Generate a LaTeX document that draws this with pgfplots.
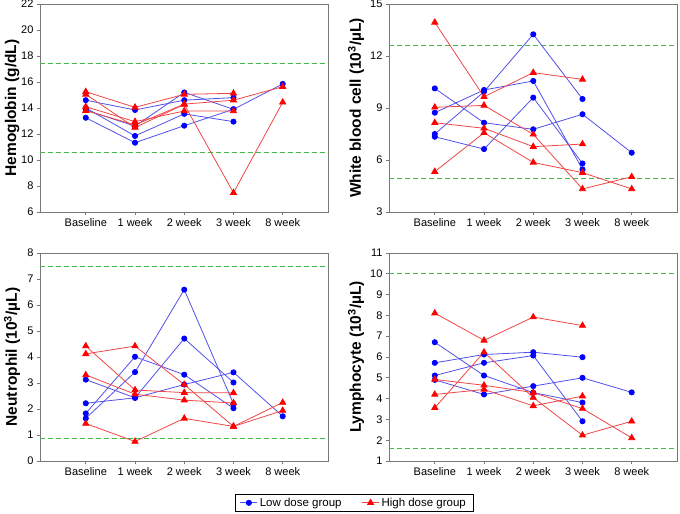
\documentclass[border=0pt]{standalone}
\usepackage{fontspec}
\setmainfont{Liberation Sans}
\usepackage{pgfplots}
\pgfplotsset{compat=1.18}

\definecolor{lowline}{RGB}{80,80,235}
\definecolor{highline}{RGB}{240,70,70}
\definecolor{refgreen}{RGB}{70,185,70}
\definecolor{frame}{RGB}{120,120,120}

\pgfplotsset{
  panel/.style={
    scale only axis, width=288pt, height=208pt,
    xmin=-0.93, xmax=4.92,
    xtick={0,1,2,3,4},
    xticklabels={Baseline,1 week,2 week,3 week,8 week},
    axis line style={frame, line width=0.9pt},
    tick style={frame, line width=0.8pt},
    tick align=outside, xtick pos=left, ytick pos=left,
    major tick length=3pt,
    ticklabel style={font=\fontsize{11}{13}\selectfont},
    /pgf/number format/assume math mode=true,
    every axis y label/.style={at={(axis description cs:-0.097,0.5)}, rotate=90, anchor=center,
      font=\bfseries\fontsize{15.5}{18}\selectfont},
  },
  rightpanel/.style={
    every axis y label/.style={at={(axis description cs:-0.114,0.5)}, rotate=90, anchor=center,
      font=\bfseries\fontsize{15.5}{18}\selectfont},
  },
  low/.style={lowline, line width=0.8pt, mark=*, mark size=2.6pt,
    mark options={fill=blue, draw=blue}, forget plot},
  high/.style={highline, line width=0.8pt, mark=triangle*, mark size=3.5pt,
    mark options={fill=red, draw=red}, forget plot},
  refl/.style={refgreen, line width=0.9pt, dash pattern=on 5pt off 3pt, forget plot},
}

\begin{document}
\begin{tikzpicture}
\useasboundingbox (0,0) rectangle (680pt,-514pt);

% Hemoglobin
\begin{axis}[panel, at={(40pt,-4pt)}, anchor=north west,
  ymin=6, ymax=22, ytick={6,8,...,22}, ylabel={Hemoglobin (g/dL)}]
\addplot[refl] coordinates {(-0.93,17.4)(4.92,17.4)};
\addplot[refl] coordinates {(-0.93,10.6)(4.92,10.6)};
\addplot[low] coordinates {(0,14.6)(1,13.85)(2,14.6)(3,14.8)};
\addplot[low] coordinates {(0,14.0)(1,11.85)(2,13.55)(3,12.95)};
\addplot[low] coordinates {(0,13.25)(1,11.33)(2,12.64)(3,13.9)(4,15.85)};
\addplot[low] coordinates {(0,13.85)(1,12.6)(2,15.2)(3,13.9)};
\addplot[high] coordinates {(0,15.25)(1,14.05)(2,15.05)(3,15.13)};
\addplot[high] coordinates {(0,15.05)(1,12.5)(2,14.28)(3,7.48)(4,14.44)};
\addplot[high] coordinates {(0,14.1)(1,12.95)(2,13.77)(3,13.77)};
\addplot[high] coordinates {(0,13.8)(1,12.7)(2,14.3)(3,14.6)(4,15.64)};
\end{axis}

% White blood cell
\begin{axis}[panel, rightpanel, at={(389pt,-4pt)}, anchor=north west,
  ymin=3, ymax=15, ytick={3,6,...,15}, ylabel={White blood cell (10\textsuperscript{3}/µL)}]
\addplot[refl] coordinates {(-0.93,12.6)(4.92,12.6)};
\addplot[refl] coordinates {(-0.93,4.95)(4.92,4.95)};
\addplot[low] coordinates {(0,10.13)(1,8.15)(2,7.77)(3,8.64)(4,6.42)};
\addplot[low] coordinates {(0,8.73)(1,10.04)(2,10.56)(3,5.46)};
\addplot[low] coordinates {(0,7.5)(1,9.94)(2,13.25)(3,9.52)};
\addplot[low] coordinates {(0,7.34)(1,6.63)(2,9.6)(3,5.8)};
\addplot[high] coordinates {(0,13.94)(1,9.65)(2,11.04)(3,10.65)};
\addplot[high] coordinates {(0,9.04)(1,9.15)(2,7.48)(3,4.33)(4,5.03)};
\addplot[high] coordinates {(0,8.15)(1,7.83)(2,6.77)(3,6.92)};
\addplot[high] coordinates {(0,5.33)(1,7.57)(2,5.86)(3,5.27)(4,4.33)};
\end{axis}

% Neutrophil
\begin{axis}[panel, at={(40pt,-253pt)}, anchor=north west,
  ymin=0, ymax=8, ytick={0,1,...,8}, ylabel={Neutrophil (10\textsuperscript{3}/µL)},
  legend columns=2,
  legend style={at={(1.09,-0.201)}, anchor=center, draw=black, line width=0.6pt,
    font=\fontsize{11.5}{13}\selectfont, inner xsep=5pt,
    /tikz/every even column/.append style={column sep=18pt}}]
\addlegendimage{lowline, line width=0.8pt, mark=*, mark size=2.6pt, mark options={fill=blue, draw=blue}}
\addlegendentry{Low dose group}
\addlegendimage{highline, line width=0.8pt, mark=triangle*, mark size=3.5pt, mark options={fill=red, draw=red}}
\addlegendentry{High dose group}
\addplot[refl] coordinates {(-0.93,7.5)(4.92,7.5)};
\addplot[refl] coordinates {(-0.93,0.85)(4.92,0.85)};
\addplot[low] coordinates {(0,3.13)(1,2.43)(2,4.71)(3,3.02)};
\addplot[low] coordinates {(0,2.22)(1,2.43)(2,2.94)(3,3.41)(4,1.72)};
\addplot[low] coordinates {(0,1.83)(1,4.01)(2,3.32)(3,2.03)};
\addplot[low] coordinates {(0,1.64)(1,3.42)(2,6.59)(3,2.2)};
\addplot[high] coordinates {(0,4.42)(1,2.73)(2,2.63)(3,2.62)};
\addplot[high] coordinates {(0,4.12)(1,4.42)(2,2.94)(3,1.33)(4,2.25)};
\addplot[high] coordinates {(0,3.31)(1,2.57)(2,2.34)(3,2.23)};
\addplot[high] coordinates {(0,1.44)(1,0.75)(2,1.64)(3,1.33)(4,1.94)};
\end{axis}

% Lymphocyte
\begin{axis}[panel, rightpanel, at={(389pt,-253pt)}, anchor=north west,
  ymin=1, ymax=11, ytick={1,2,...,11}, ylabel={Lymphocyte (10\textsuperscript{3}/µL)}]
\addplot[refl] coordinates {(-0.93,10)(4.92,10)};
\addplot[refl] coordinates {(-0.93,1.6)(4.92,1.6)};
\addplot[low] coordinates {(0,6.71)(1,5.11)(2,4.29)(3,3.81)};
\addplot[low] coordinates {(0,5.72)(1,6.12)(2,6.23)(3,5.99)};
\addplot[low] coordinates {(0,5.11)(1,5.72)(2,6.07)(3,2.91)};
\addplot[low] coordinates {(0,4.9)(1,4.2)(2,4.6)(3,5.0)(4,4.3)};
\addplot[high] coordinates {(0,8.11)(1,6.8)(2,7.92)(3,7.51)};
\addplot[high] coordinates {(0,3.56)(1,6.23)(2,4.05)(3,2.24)(4,2.91)};
\addplot[high] coordinates {(0,4.92)(1,4.64)(2,4.29)(3,3.52)(4,2.11)};
\addplot[high] coordinates {(0,4.2)(1,4.44)(2,3.65)(3,4.12)};
\end{axis}
\end{tikzpicture}
\end{document}
